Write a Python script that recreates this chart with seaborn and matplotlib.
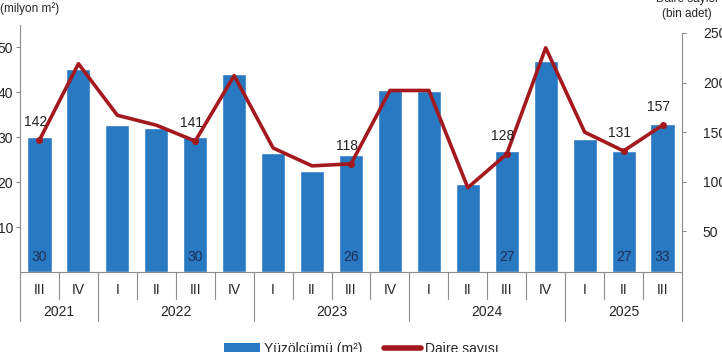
import numpy as np
import pandas as pd
import seaborn as sns
import matplotlib.pyplot as plt
from matplotlib.patches import Patch
from matplotlib.lines import Line2D

# Çeyrek verileri (2021 III - 2025 III)
quarters = ["III", "IV", "I", "II", "III", "IV", "I", "II", "III", "IV",
            "I", "II", "III", "IV", "I", "II", "III"]
years = ["2021", "2021", "2022", "2022", "2022", "2022", "2023", "2023", "2023", "2023",
         "2024", "2024", "2024", "2024", "2025", "2025", "2025"]
area = [30, 45.2, 32.8, 32.0, 30, 44.0, 26.6, 22.4, 26, 40.5,
        40.2, 19.6, 27, 46.9, 29.6, 27, 33]          # milyon m²
dwellings = [142, 219, 167, 157, 141, 207, 134, 116, 118, 192,
             192, 94, 128, 235, 150, 131, 157]         # bin adet
area_labels = {0: "30", 4: "30", 8: "26", 12: "27", 15: "27", 16: "33"}
dw_labels = {0: "142", 4: "141", 8: "118", 12: "128", 15: "131", 16: "157"}
year_names = ["2021", "2022", "2023", "2024", "2025"]

df = pd.DataFrame({"key": [f"{y}-{q}-{i}" for i, (y, q) in enumerate(zip(years, quarters))],
                   "area": area, "dw": dwellings, "pos": np.arange(len(area))})

sns.set_style("white")
plt.rcParams["font.family"] = ["Liberation Sans", "DejaVu Sans"]

bar_c = "#2878c2"
line_c = "#a3191e"
grey = "#8c8c8c"

fig = plt.figure(figsize=(7.22, 3.52), dpi=100)
ax = fig.add_axes([20 / 722, 80 / 352, 662 / 722, 247 / 352])

sns.barplot(data=df, x="key", y="area", color=bar_c, width=0.62, saturation=1, ax=ax)
ax.set_xlim(-0.5, len(area) - 0.5)
ax.set_ylim(0, 55)
ax.set_yticks([10, 20, 30, 40, 50])
ax.set_xticks(df["pos"])
ax.set_xticklabels(quarters, fontsize=10)
ax.tick_params(axis="x", length=0, pad=8)
ax.tick_params(axis="y", length=3, direction="out", color=grey, labelsize=10, pad=2)
ax.set_xlabel("")
ax.set_ylabel("")
for s in ["top", "right"]:
    ax.spines[s].set_visible(False)
for s in ["left", "bottom"]:
    ax.spines[s].set_color(grey)
    ax.spines[s].set_linewidth(0.8)

for i, t in area_labels.items():
    ax.text(i, 3.3, t, ha="center", va="center", fontsize=10, color="#1d2f55")

ax2 = ax.twinx()
sns.lineplot(data=df, x="pos", y="dw", color=line_c, linewidth=2.6, ax=ax2)
lab_idx = list(dw_labels.keys())
ax2.plot(df["pos"][lab_idx], df["dw"][lab_idx], "o", color=line_c, markersize=4)
ax2.set_ylim(9, 258)
ax2.set_yticks([50, 100, 150, 200, 250])
ax2.set_xlim(-0.5, len(area) - 0.5)
ax2.set_xlabel("")
ax2.set_ylabel("")
ax2.tick_params(axis="y", length=3, direction="out", color=grey, labelsize=10, pad=12)
for s in ["top", "left", "bottom"]:
    ax2.spines[s].set_visible(False)
ax2.spines["right"].set_color(grey)
ax2.spines["right"].set_linewidth(0.8)
ax2.spines["right"].set_bounds(9, 250)

for i, t in dw_labels.items():
    ax2.annotate(t, (i, dwellings[i]), xytext=(-3, 8), textcoords="offset points",
                 ha="center", va="bottom", fontsize=10, color="#222222")

# alt eksen: çeyrek/yıl ayraçları
trans = ax.get_xaxis_transform()
bounds = [-0.5]
for i in range(1, len(years)):
    if years[i] != years[i - 1]:
        bounds.append(i - 0.5)
bounds.append(len(years) - 0.5)
for k in range(len(years) + 1):
    x = k - 0.5
    y_end = -0.2 if x in bounds else -0.11
    ax.plot([x, x], [0, y_end], color=grey, lw=0.8, transform=trans, clip_on=False)
for j, yn in enumerate(year_names):
    ax.text((bounds[j] + bounds[j + 1]) / 2, -0.16, yn, transform=trans,
            ha="center", va="center", fontsize=10)

fig.text(0.0, 1 - 9 / 352, "(milyon m²)", ha="left", va="center", fontsize=8.5)
fig.text(687 / 722, 1 + 1 / 352, "Daire sayısı", ha="center", va="center", fontsize=8.5)
fig.text(687 / 722, 1 - 14 / 352, "(bin adet)", ha="center", va="center", fontsize=8.5)

handles = [Patch(facecolor=bar_c, edgecolor="none"), Line2D([], [], color=line_c, lw=4)]
fig.legend(handles, ["Yüzölçümü (m²)", "Daire sayısı"], loc="center",
           bbox_to_anchor=(0.5, 3 / 352), ncol=2, frameon=False, fontsize=10,
           handlelength=2.6, handleheight=0.8, columnspacing=1.6, handletextpad=0.3)

fig.savefig("out.png", dpi=100)
